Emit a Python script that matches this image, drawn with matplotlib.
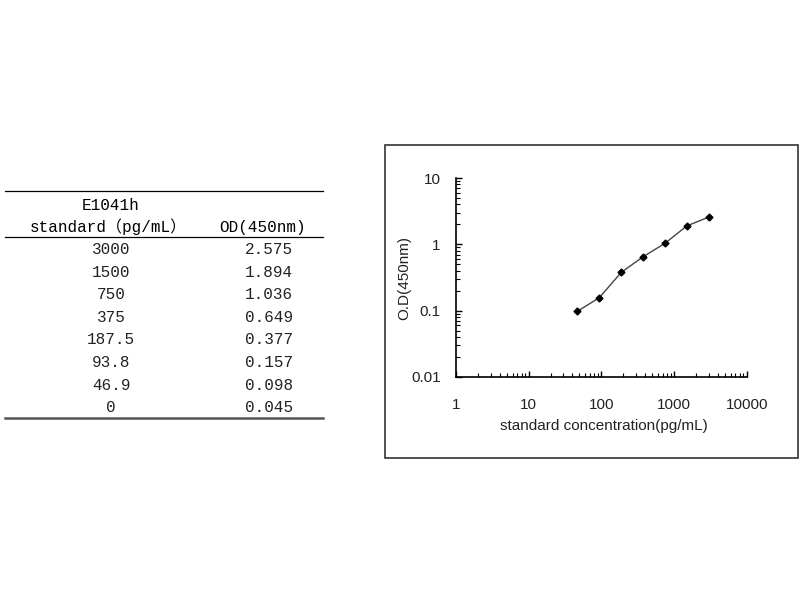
import matplotlib
matplotlib.use('Agg')
import matplotlib.pyplot as plt
from matplotlib.lines import Line2D
from matplotlib.patches import Rectangle
from matplotlib.ticker import LogLocator, NullFormatter, FixedLocator, FixedFormatter

# table data
standard = ['3000', '1500', '750', '375', '187.5', '93.8', '46.9', '0']
od_values = ['2.575', '1.894', '1.036', '0.649', '0.377', '0.157', '0.098', '0.045']

# points on the curve (0 is not plotted on a log axis)
conc = [46.9, 93.8, 187.5, 375, 750, 1500, 3000]
od = [0.098, 0.157, 0.377, 0.649, 1.036, 1.894, 2.575]

W, H = 800, 600
fig = plt.figure(figsize=(8, 6), dpi=100)

def fx(px):
    return px / W

def fy(py):
    return 1 - py / H

table_font = ['Liberation Mono', 'Noto Sans CJK SC']
col1_x = 111
col2_x = 269

# table rules
fig.add_artist(Line2D([fx(5), fx(323)], [fy(190.5), fy(190.5)], color='black', lw=0.9))
fig.add_artist(Line2D([fx(5), fx(323)], [fy(236.5), fy(236.5)], color='black', lw=0.9))
fig.add_artist(Line2D([fx(5), fx(323)], [fy(417.5), fy(417.5)], color='#555555', lw=1.8))

fig.text(fx(col1_x), fy(205), 'E1041h', ha='center', va='center', fontsize=11.5, family=table_font)
fig.text(fx(col1_x - 3), fy(227), 'standard（pg/mL）', ha='center', va='center', fontsize=11.5, family=table_font)
fig.text(fx(col2_x - 6), fy(227), 'OD(450nm)', ha='center', va='center', fontsize=11.5, family=table_font)

row_y0 = 249.5
row_step = 22.6
for i in range(len(standard)):
    y = row_y0 + i * row_step
    fig.text(fx(col1_x), fy(y), standard[i], ha='center', va='center', fontsize=11.5, family=table_font, color='#222222')
    fig.text(fx(col2_x), fy(y), od_values[i], ha='center', va='center', fontsize=11.5, family=table_font, color='#222222')

# chart frame
fig.add_artist(Rectangle((fx(385), fy(457.5)), fx(798) - fx(385), fy(145) - fy(457.5),
                         fill=False, edgecolor='#333333', lw=1.2, transform=fig.transFigure))

ax = fig.add_axes([fx(456), fy(377), fx(746.7) - fx(456), fy(178) - fy(377)])
ax.plot(conc, od, color='#444444', lw=1.0, marker='D', markersize=3.5,
        markerfacecolor='black', markeredgecolor='black')

ax.set_xscale('log')
ax.set_yscale('log')
ax.set_xlim(1, 10000)
ax.set_ylim(0.01, 10)

ax.spines['top'].set_visible(False)
ax.spines['right'].set_visible(False)
for s in ['left', 'bottom']:
    ax.spines[s].set_linewidth(1.2)

ax.xaxis.set_major_locator(FixedLocator([1, 10, 100, 1000, 10000]))
ax.xaxis.set_major_formatter(FixedFormatter(['1', '10', '100', '1000', '10000']))
ax.yaxis.set_major_locator(FixedLocator([0.01, 0.1, 1, 10]))
ax.yaxis.set_major_formatter(FixedFormatter(['0.01', '0.1', '1', '10']))
ax.xaxis.set_minor_locator(LogLocator(base=10, subs=range(2, 10), numticks=20))
ax.yaxis.set_minor_locator(LogLocator(base=10, subs=range(2, 10), numticks=20))
ax.xaxis.set_minor_formatter(NullFormatter())
ax.yaxis.set_minor_formatter(NullFormatter())

ax.tick_params(which='major', direction='in', length=4, width=1, labelsize=11,
               labelfontfamily='Liberation Sans', labelcolor='#222222')
ax.tick_params(which='minor', direction='in', length=3, width=0.8)
ax.tick_params(axis='x', which='major', pad=15)
ax.tick_params(axis='y', which='major', pad=11)

ax.set_xlabel('standard concentration(pg/mL)', fontsize=11, family='Liberation Sans',
              color='#222222', va='center')
ax.set_ylabel('O.D(450nm)', fontsize=11, family='Liberation Sans', color='#222222', va='center')
ax.xaxis.set_label_coords(0.507, -(426 - 377) / 199)
ax.yaxis.set_label_coords(-(456 - 404) / 290.7, 0.5)

fig.savefig('out.png', dpi=100)
